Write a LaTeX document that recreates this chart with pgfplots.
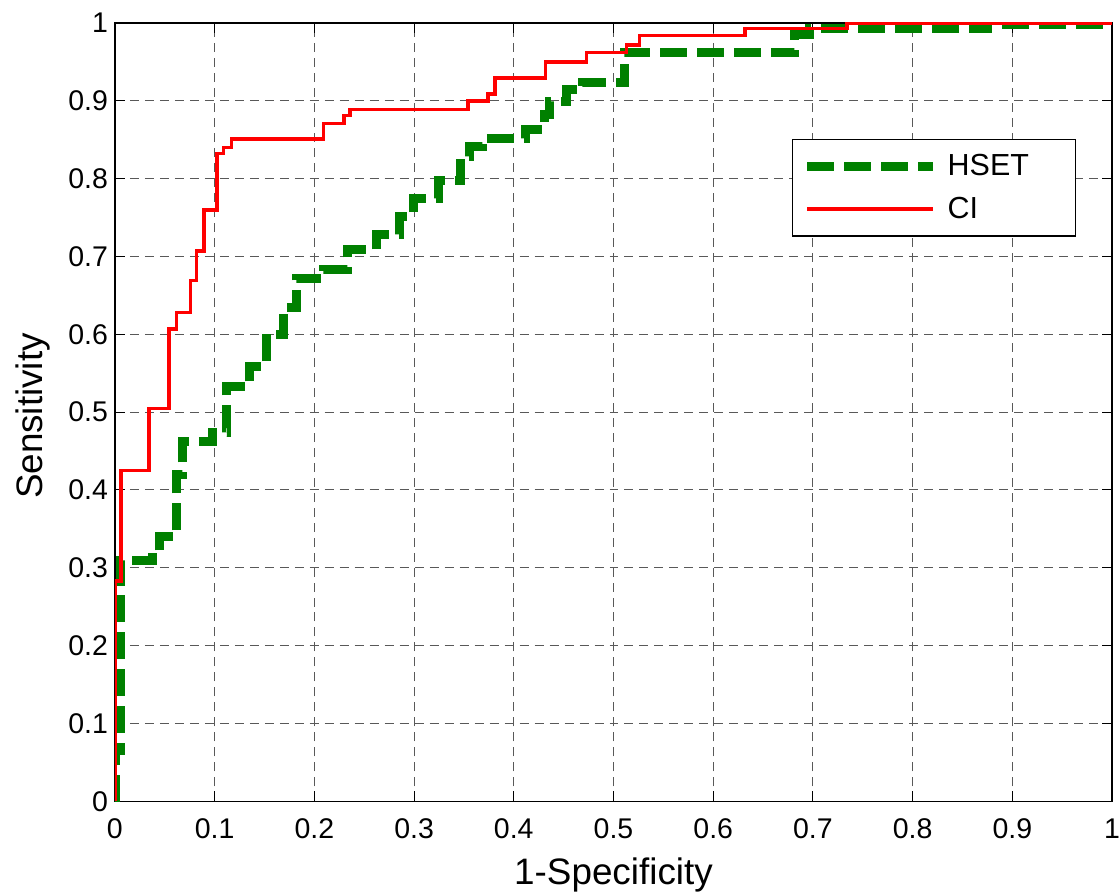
\documentclass[border=0pt]{standalone}
\usepackage{pgfplots}
\pgfplotsset{compat=1.18}
\usepackage{fontspec}
\setmainfont{Liberation Sans}
\definecolor{hgreen}{rgb}{0,0.5,0}
\begin{document}
\begin{tikzpicture}
\begin{axis}[
  scale only axis,
  width=499bp, height=389.5bp,
  xmin=0, xmax=1, ymin=0, ymax=1,
  xtick={0,0.1,...,1.01}, ytick={0,0.1,...,1.01},
  /pgf/number format/assume math mode=true,
  tick label style={font=\fontsize{14.3}{16}\selectfont},
  xticklabel style={anchor=base, yshift=-18.5bp, inner xsep=0bp},
  label style={font=\fontsize{18.5}{22}\selectfont, inner sep=0bp},
  xlabel={1-Specificity}, ylabel={Sensitivity},
  xlabel style={at={(axis description cs:0.5,-0.1066)}, anchor=base},
  ylabel style={at={(axis description cs:-0.0731,0.495)}, anchor=base, rotate=0},
  grid=major,
  major grid style={black!65, dash pattern=on 4.5bp off 3bp, line width=0.5bp},
  tick align=inside,
  tick style={black, line width=0.5bp},
  major tick length=5bp,
  axis line style={black, line width=0.6bp},
  legend style={at={(0.964,0.851)}, anchor=north east, draw=black, line width=0.6bp,
    font=\fontsize{15.3}{18}\selectfont, inner xsep=5bp, inner ysep=5.5bp, row sep=5bp},
  legend cell align=left,
  legend image code/.code={\draw[#1] (0bp,0bp) -- (63bp,0bp);},
]
\addplot[hgreen, line width=4.5bp, dash pattern=on 13.5bp off 5bp, line cap=butt] coordinates {
(0,0) (0.001,0) (0.001,0.065) (0.006,0.065) (0.006,0.31) (0.038,0.31) (0.038,0.32) (0.045,0.32) (0.045,0.34) (0.062,0.34) (0.062,0.42) (0.068,0.42) (0.068,0.462) (0.098,0.462) (0.098,0.474) (0.112,0.474) (0.112,0.533) (0.135,0.533) (0.135,0.559) (0.152,0.559) (0.152,0.60) (0.169,0.60) (0.169,0.634) (0.182,0.634) (0.182,0.672) (0.209,0.672) (0.209,0.683) (0.233,0.683) (0.233,0.709) (0.262,0.709) (0.262,0.728) (0.285,0.728) (0.285,0.752) (0.299,0.752) (0.299,0.775) (0.325,0.775) (0.325,0.798) (0.347,0.798) (0.347,0.828) (0.356,0.828) (0.356,0.841) (0.369,0.841) (0.369,0.852) (0.412,0.852) (0.412,0.863) (0.431,0.863) (0.431,0.882) (0.436,0.882) (0.436,0.899) (0.453,0.899) (0.453,0.914) (0.469,0.914) (0.469,0.923) (0.511,0.923) (0.511,0.962) (0.682,0.962) (0.682,0.985) (0.697,0.985) (0.697,0.993) (0.875,0.993) (0.875,0.998) (1,0.998)
};
\addlegendentry{\makebox[60bp][l]{\hspace{3bp}HSET}}
\addplot[red, line width=1.75bp] coordinates {
(0,0) (0,0.283) (0.006,0.283) (0.006,0.425) (0.034,0.425) (0.034,0.505) (0.054,0.505) (0.054,0.607) (0.062,0.607) (0.062,0.628) (0.076,0.628) (0.076,0.669) (0.082,0.669) (0.082,0.707) (0.0895,0.707) (0.0895,0.760) (0.1025,0.760) (0.1025,0.832) (0.109,0.832) (0.109,0.840) (0.117,0.840) (0.117,0.851) (0.209,0.851) (0.209,0.871) (0.2295,0.871) (0.2295,0.881) (0.236,0.881) (0.236,0.889) (0.354,0.889) (0.354,0.900) (0.374,0.900) (0.374,0.909) (0.381,0.909) (0.381,0.929) (0.432,0.929) (0.432,0.950) (0.473,0.950) (0.473,0.962) (0.513,0.962) (0.513,0.972) (0.526,0.972) (0.526,0.984) (0.632,0.984) (0.632,0.993) (0.734,0.993) (0.734,1) (1,1)
};
\addlegendentry{\makebox[60bp][l]{\hspace{3bp}CI}}
\coordinate (axtop) at (rel axis cs:0,1);
\coordinate (axbot) at (rel axis cs:0,0);
\end{axis}
\path ([yshift=11.5bp,xshift=-57.5bp]axtop) ([yshift=-46bp]axbot);
\end{tikzpicture}
\end{document}
